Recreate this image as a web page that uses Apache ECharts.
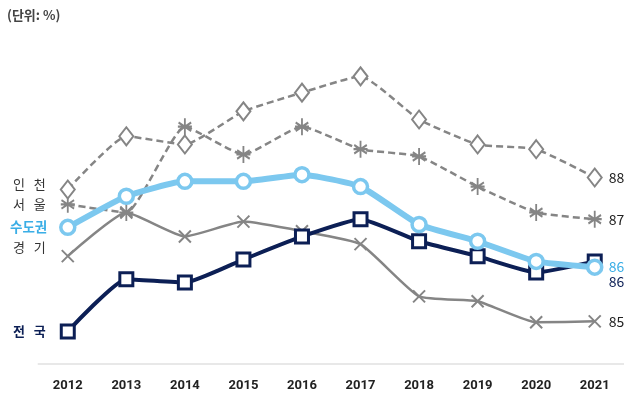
<!DOCTYPE html>
<html><head><meta charset="utf-8">
<script src="https://cdn.jsdelivr.net/npm/echarts@6/dist/echarts.min.js"></script>
<style>html,body{margin:0;padding:0;background:#fff}#c{width:624px;height:404px}</style>
</head><body><div id="c"></div>
<script>
const years = ['2012','2013','2014','2015','2016','2017','2018','2019','2020','2021'];
const incheon = [88.24, 89.35, 89.18, 89.87, 90.26, 90.60, 89.70, 89.18, 89.08, 88.49];
const seoul = [87.93, 87.76, 89.55, 88.97, 89.55, 89.08, 88.93, 88.30, 87.76, 87.62];
const capital = [87.45, 88.10, 88.41, 88.41, 88.55, 88.30, 87.51, 87.16, 86.74, 86.62];
const gyeonggi = [86.85, 87.76, 87.26, 87.57, 87.37, 87.10, 86.01, 85.91, 85.47, 85.49];
const national = [85.28, 86.37, 86.30, 86.78, 87.26, 87.62, 87.16, 86.85, 86.51, 86.74];
const seriesNames = ['인천', '서울', '수도권', '경기', '전국'];

const GRAY = '#858585', BLUE = '#7cc8ef', NAVY = '#0c1f55';
const asterisk = 'path://M0,-10L0,10M-9,-5L9,5M-9,5L9,-5M-10,0L10,0';
const cross = 'path://M-5,-5L5,5M-5,5L5,-5';
const fmt = p => p.value.toFixed(1);
const chart = echarts.init(document.getElementById('c'));
const font = "'Noto Sans CJK KR','Noto Sans',sans-serif";
const endLbl = (color, extra) => Object.assign({show: true, formatter: fmt, color: color, fontSize: 14, fontFamily: font, distance: 14}, extra || {});
chart.setOption({
  animation: false,
  grid: {left: 38.5, right: -6, top: 38, height: 326},
  xAxis: {
    type: 'category', data: years, boundaryGap: true,
    axisLine: {lineStyle: {color: '#e8e8e8', width: 2}},
    axisTick: {show: false},
    axisLabel: {margin: 15, color: '#222', fontSize: 13, fontWeight: 'bold', fontFamily: "'Liberation Sans Narrow','Roboto',sans-serif"}
  },
  yAxis: {type: 'value', min: 84.6, max: 91.4, show: false, splitLine: {show: false}},
  series: [
    {name: seriesNames[3], type: 'line', data: gyeonggi, smooth: 0.15, z: 2,
      lineStyle: {color: GRAY, width: 2.5}, symbol: cross, symbolSize: 12,
      itemStyle: {color: GRAY, borderColor: GRAY, borderWidth: 2},
      endLabel: endLbl('#222')},
    {name: seriesNames[1], type: 'line', data: seoul, smooth: 0.15, z: 3,
      lineStyle: {color: GRAY, width: 2.5, type: [7, 4]}, symbol: asterisk, symbolSize: [14, 17],
      itemStyle: {color: GRAY, borderColor: GRAY, borderWidth: 2},
      endLabel: endLbl('#222')},
    {name: seriesNames[0], type: 'line', data: incheon, smooth: 0.15, z: 4,
      lineStyle: {color: GRAY, width: 2.5, type: [7, 4]}, symbol: 'diamond', symbolSize: [14, 18], showAllSymbol: true,
      itemStyle: {color: '#fff', borderColor: GRAY, borderWidth: 2},
      endLabel: endLbl('#222')},
    {name: seriesNames[4], type: 'line', data: national, smooth: 0.15, z: 5,
      lineStyle: {color: NAVY, width: 4}, symbol: 'rect', symbolSize: 13,
      itemStyle: {color: '#fff', borderColor: NAVY, borderWidth: 3},
      endLabel: endLbl(NAVY, {offset: [0, 20]})},
    {name: seriesNames[2], type: 'line', data: capital, smooth: 0.15, z: 6,
      lineStyle: {color: BLUE, width: 6}, symbol: 'circle', symbolSize: 14,
      itemStyle: {color: '#fff', borderColor: BLUE, borderWidth: 3.5},
      endLabel: endLbl('#3aaee6')}
  ],
  graphic: [
    {type: 'text', left: 7, top: 9, style: {text: '(단위: %)', fontSize: 13, fill: '#444', fontFamily: font, fontWeight: 'bold'}},
    {type: 'text', left: 13, top: 178, style: {text: '인   천', fontSize: 13, fill: '#333', fontFamily: font}},
    {type: 'text', left: 13, top: 198, style: {text: '서   울', fontSize: 13, fill: '#333', fontFamily: font}},
    {type: 'text', left: 10, top: 220, style: {text: '수도권', fontSize: 13.5, fill: '#3aaee6', fontFamily: font, fontWeight: 'bold'}},
    {type: 'text', left: 13, top: 241, style: {text: '경   기', fontSize: 13, fill: '#333', fontFamily: font}},
    {type: 'text', left: 13, top: 325, style: {text: '전   국', fontSize: 13, fill: NAVY, fontFamily: font, fontWeight: 'bold'}}
  ]
});
</script></body></html>
